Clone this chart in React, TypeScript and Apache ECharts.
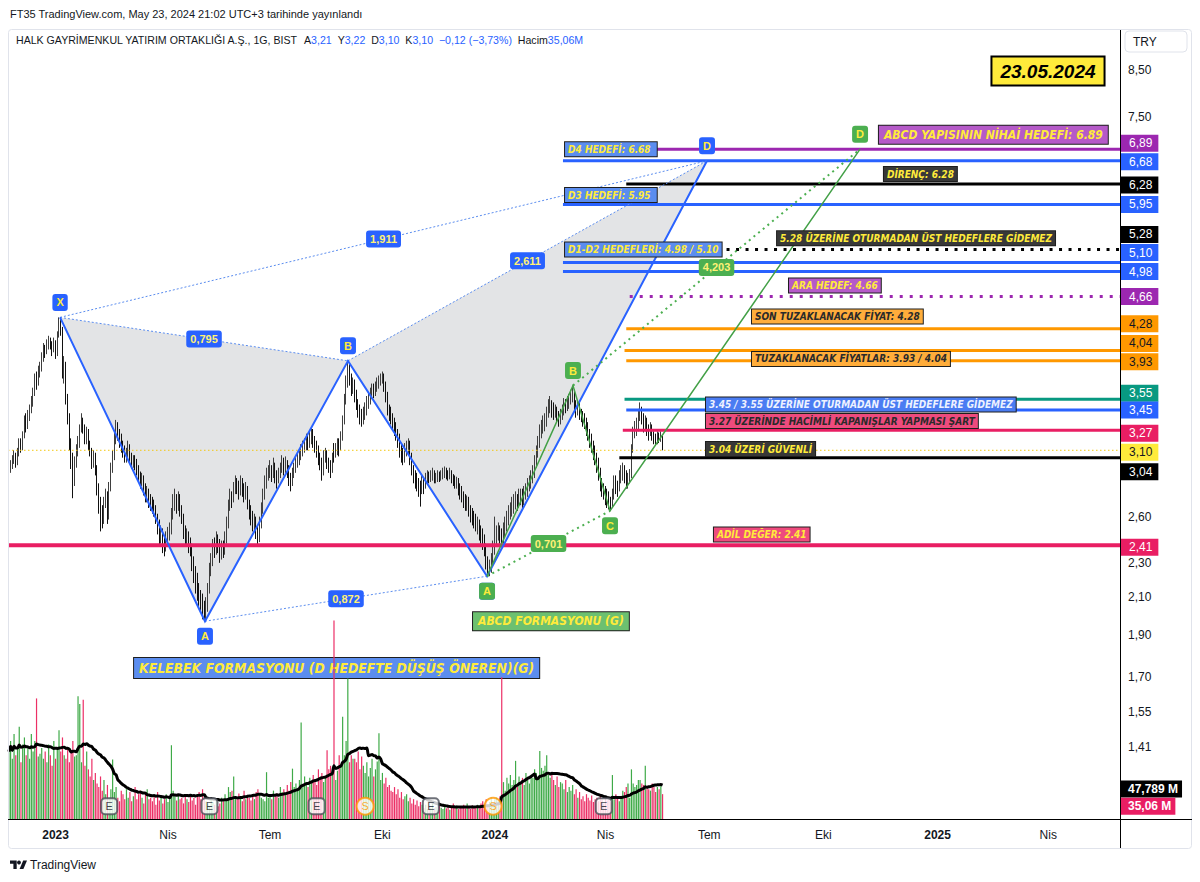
import React, { useEffect, useRef } from 'react';
import * as echarts from 'echarts';

const N_CATS = 643;
const HOLIDAYS = ['2023-04-21', '2023-05-01', '2023-05-19', '2023-06-28', '2023-06-29', '2023-06-30', '2024-01-01', '2024-04-10', '2024-04-11', '2024-04-12', '2024-04-23', '2024-05-01'];
const MONTHS_TR = ['Oca', 'Şub', 'Mar', 'Nis', 'May', 'Haz', 'Tem', 'Ağu', 'Eyl', 'Eki', 'Kas', 'Ara'];

// [open, close, low, high]
const candles = [
  [2.92,2.95,2.88,2.99],[2.95,2.98,2.92,3.02],[2.98,3.02,2.95,3.06],[3.02,3.05,2.99,3.10],[3.05,3.00,2.96,3.08],[3.00,3.08,2.98,3.12],[3.08,3.15,3.05,3.20],[3.15,3.12,3.08,3.20],[3.12,3.22,3.10,3.26],[3.22,3.35,3.20,3.40],
  [3.35,3.30,3.25,3.42],[3.30,3.38,3.28,3.45],[3.38,3.45,3.35,3.50],[3.45,3.52,3.42,3.58],[3.52,3.60,3.48,3.66],[3.60,3.75,3.58,3.80],[3.75,3.70,3.64,3.82],[3.70,3.82,3.68,3.88],[3.82,3.85,3.76,3.92],[3.85,3.95,3.82,4.02],
  [3.95,4.05,3.92,4.12],[4.05,4.02,3.96,4.10],[4.02,4.10,4.00,4.16],[4.10,4.15,4.05,4.20],[4.15,4.10,4.05,4.18],[4.10,4.05,3.98,4.14],[4.05,4.12,4.02,4.18],[4.12,4.00,3.95,4.15],[4.00,4.20,3.98,4.25],[4.20,4.35,4.18,4.41],
  [4.35,4.30,4.20,4.40],[4.30,3.80,3.75,4.30],[3.80,3.90,3.70,3.98],[3.90,3.55,3.50,3.92],[3.55,3.40,3.32,3.60],[3.40,3.15,3.10,3.42],[3.15,3.05,2.95,3.20],[3.05,2.85,2.73,3.08],[2.85,3.00,2.82,3.05],[3.00,3.10,2.96,3.15],
  [3.10,3.15,3.05,3.22],[3.15,3.28,3.12,3.32],[3.28,3.35,3.25,3.42],[3.35,3.30,3.24,3.38],[3.30,3.20,3.15,3.32],[3.20,3.25,3.15,3.30],[3.25,3.15,3.10,3.28],[3.15,3.10,3.05,3.18],[3.10,3.00,2.95,3.12],[3.00,3.05,2.96,3.10],
  [3.05,2.95,2.90,3.08],[2.95,2.80,2.75,2.98],[2.80,2.70,2.62,2.84],[2.70,2.62,2.50,2.74],[2.62,2.58,2.52,2.68],[2.58,2.70,2.55,2.74],[2.70,2.75,2.66,2.80],[2.75,2.60,2.55,2.78],[2.60,2.80,2.58,2.85],[2.80,2.95,2.78,3.00],
  [2.95,3.05,2.92,3.10],[3.05,3.20,3.02,3.25],[3.20,3.30,3.15,3.36],[3.30,3.25,3.18,3.34],[3.25,3.20,3.12,3.28],[3.20,3.12,3.08,3.24],[3.12,3.10,3.04,3.18],[3.10,3.05,3.00,3.14],[3.05,3.08,3.00,3.12],[3.08,3.12,3.04,3.18],
  [3.12,3.05,3.00,3.15],[3.05,3.00,2.95,3.08],[3.00,3.02,2.96,3.06],[3.02,3.00,2.94,3.06],[3.00,2.95,2.90,3.03],[2.95,2.90,2.85,2.98],[2.90,2.85,2.80,2.93],[2.85,2.88,2.82,2.92],[2.88,2.80,2.75,2.90],[2.80,2.75,2.70,2.84],
  [2.75,2.78,2.70,2.82],[2.78,2.72,2.66,2.80],[2.72,2.70,2.64,2.76],[2.70,2.68,2.62,2.74],[2.68,2.65,2.60,2.72],[2.65,2.60,2.55,2.68],[2.60,2.55,2.48,2.62],[2.55,2.45,2.40,2.58],[2.45,2.50,2.42,2.54],[2.50,2.42,2.36,2.52],
  [2.42,2.40,2.34,2.46],[2.40,2.45,2.37,2.50],[2.45,2.48,2.42,2.53],[2.48,2.50,2.44,2.56],[2.50,2.62,2.48,2.66],[2.62,2.70,2.58,2.76],[2.70,2.72,2.64,2.80],[2.72,2.68,2.62,2.76],[2.68,2.72,2.64,2.78],[2.72,2.65,2.60,2.76],
  [2.65,2.60,2.55,2.68],[2.60,2.50,2.45,2.62],[2.50,2.45,2.40,2.54],[2.45,2.48,2.40,2.52],[2.48,2.42,2.36,2.50],[2.42,2.40,2.34,2.46],[2.40,2.30,2.25,2.42],[2.30,2.25,2.18,2.34],[2.25,2.20,2.12,2.28],[2.20,2.15,2.08,2.24],
  [2.15,2.10,2.04,2.18],[2.10,2.08,2.02,2.14],[2.08,2.02,1.98,2.12],[2.02,2.00,1.97,2.08],[2.00,2.05,1.98,2.10],[2.05,2.15,2.02,2.18],[2.15,2.25,2.12,2.30],[2.25,2.32,2.22,2.36],[2.32,2.40,2.28,2.45],[2.40,2.38,2.33,2.46],
  [2.38,2.45,2.35,2.50],[2.45,2.42,2.36,2.48],[2.42,2.35,2.30,2.45],[2.35,2.40,2.32,2.44],[2.40,2.38,2.33,2.44],[2.38,2.45,2.35,2.50],[2.45,2.55,2.42,2.60],[2.55,2.68,2.52,2.72],[2.68,2.75,2.64,2.80],[2.75,2.72,2.66,2.78],
  [2.72,2.80,2.70,2.85],[2.80,2.85,2.76,2.90],[2.85,2.82,2.76,2.88],[2.82,2.78,2.72,2.86],[2.78,2.85,2.75,2.90],[2.85,2.80,2.74,2.88],[2.80,2.75,2.70,2.84],[2.75,2.80,2.72,2.85],[2.80,2.70,2.65,2.82],[2.70,2.65,2.58,2.72],
  [2.65,2.60,2.54,2.68],[2.60,2.55,2.50,2.64],[2.55,2.58,2.50,2.62],[2.58,2.50,2.45,2.60],[2.50,2.45,2.40,2.54],[2.45,2.55,2.43,2.60],[2.55,2.65,2.52,2.70],[2.65,2.75,2.62,2.80],[2.75,2.85,2.72,2.90],[2.85,2.90,2.80,2.96],
  [2.90,2.92,2.86,2.98],[2.92,2.95,2.88,3.02],[2.95,2.90,2.85,2.98],[2.90,2.98,2.88,3.04],[2.98,2.90,2.84,3.00],[2.90,2.88,2.80,2.94],[2.88,2.92,2.84,2.96],[2.92,2.95,2.88,3.00],[2.95,3.00,2.92,3.06],[3.00,2.95,2.90,3.04],
  [2.95,3.00,2.92,3.05],[3.00,2.95,2.88,3.02],[2.95,2.88,2.82,2.98],[2.88,2.85,2.78,2.92],[2.85,2.92,2.82,2.96],[2.92,2.95,2.88,3.00],[2.95,3.00,2.92,3.05],[3.00,3.02,2.96,3.08],[3.02,3.05,2.98,3.10],[3.05,3.10,3.02,3.15],
  [3.10,3.12,3.05,3.18],[3.12,3.15,3.08,3.20],[3.15,3.18,3.10,3.24],[3.18,3.15,3.10,3.22],[3.15,3.20,3.12,3.26],[3.20,3.25,3.15,3.30],[3.25,3.18,3.12,3.28],[3.18,3.15,3.08,3.22],[3.15,3.10,3.04,3.18],[3.10,3.05,2.98,3.14],
  [3.05,3.00,2.94,3.08],[3.00,2.92,2.86,3.04],[2.92,3.05,2.90,3.10],[3.05,3.05,3.00,3.12],[3.05,3.00,2.95,3.10],[3.00,2.98,2.92,3.04],[2.98,2.95,2.88,3.02],[2.95,3.02,2.92,3.08],[3.10,3.08,3.00,3.16],[3.08,3.10,3.04,3.16],
  [3.10,3.15,3.06,3.20],[3.15,3.12,3.05,3.20],[3.12,3.20,3.10,3.26],[3.20,3.35,3.18,3.40],[3.35,3.55,3.32,3.60],[3.55,3.70,3.50,3.78],[3.70,3.85,3.66,3.93],[3.85,3.75,3.68,3.90],[3.75,3.65,3.58,3.80],[3.65,3.70,3.60,3.76],
  [3.70,3.60,3.52,3.74],[3.60,3.50,3.45,3.64],[3.50,3.45,3.38,3.55],[3.45,3.40,3.32,3.50],[3.40,3.35,3.30,3.46],[3.35,3.42,3.32,3.48],[3.42,3.45,3.36,3.52],[3.45,3.52,3.40,3.58],[3.52,3.55,3.46,3.60],[3.55,3.60,3.50,3.66],
  [3.60,3.65,3.55,3.70],[3.65,3.62,3.56,3.70],[3.62,3.68,3.58,3.72],[3.68,3.70,3.62,3.76],[3.70,3.72,3.65,3.78],[3.72,3.75,3.68,3.80],[3.75,3.78,3.70,3.82],[3.78,3.70,3.62,3.80],[3.70,3.60,3.52,3.72],[3.60,3.45,3.40,3.62],
  [3.45,3.42,3.35,3.50],[3.42,3.38,3.32,3.48],[3.38,3.35,3.28,3.42],[3.35,3.30,3.22,3.38],[3.30,3.25,3.18,3.34],[3.25,3.20,3.12,3.28],[3.20,3.10,3.04,3.24],[3.10,3.08,3.00,3.16],[3.08,3.05,2.98,3.12],[3.05,3.10,3.00,3.16],
  [3.10,3.12,3.05,3.18],[3.12,3.15,3.06,3.20],[3.15,3.05,2.98,3.18],[3.05,2.95,2.90,3.08],[2.95,2.90,2.84,2.98],[2.90,2.88,2.80,2.94],[2.88,2.85,2.78,2.92],[2.85,2.82,2.74,2.88],[2.82,2.80,2.67,2.86],[2.80,2.85,2.76,2.90],
  [2.85,2.82,2.76,2.88],[2.82,2.88,2.80,2.92],[2.88,2.90,2.84,2.94],[2.90,2.88,2.84,2.93],[2.88,2.90,2.85,2.94],[2.90,2.92,2.86,2.96],[2.92,2.88,2.84,2.94],[2.88,2.88,2.84,2.92],[2.88,2.90,2.85,2.94],[2.90,2.89,2.85,2.93],
  [2.89,2.90,2.86,2.94],[2.90,2.92,2.87,2.96],[2.92,2.93,2.88,2.97],[2.93,2.91,2.87,2.96],[2.91,2.90,2.86,2.94],[2.90,2.92,2.87,2.96],[2.92,2.88,2.84,2.94],[2.88,2.86,2.82,2.91],[2.86,2.85,2.80,2.90],[2.85,2.85,2.80,2.89],
  [2.85,2.80,2.75,2.88],[2.80,2.78,2.72,2.84],[2.78,2.75,2.70,2.82],[2.75,2.72,2.66,2.78],[2.72,2.70,2.64,2.76],[2.70,2.70,2.64,2.75],[2.70,2.65,2.60,2.74],[2.65,2.62,2.56,2.68],[2.62,2.60,2.54,2.66],[2.60,2.58,2.52,2.64],
  [2.58,2.55,2.50,2.62],[2.55,2.55,2.48,2.60],[2.55,2.50,2.44,2.58],[2.50,2.48,2.42,2.54],[2.48,2.45,2.38,2.52],[2.45,2.40,2.34,2.48],[2.40,2.30,2.26,2.42],[2.30,2.25,2.22,2.34],[2.25,2.28,2.22,2.32],[2.28,2.30,2.24,2.36],
  [2.30,2.38,2.28,2.44],[2.38,2.45,2.35,2.60],[2.45,2.48,2.40,2.54],[2.48,2.50,2.44,2.56],[2.50,2.48,2.42,2.54],[2.48,2.45,2.40,2.52],[2.45,2.50,2.42,2.56],[2.50,2.55,2.46,2.60],[2.55,2.58,2.50,2.64],[2.58,2.62,2.54,2.68],
  [2.62,2.65,2.58,2.70],[2.65,2.68,2.60,2.74],[2.68,2.70,2.62,2.76],[2.70,2.72,2.65,2.78],[2.72,2.70,2.64,2.76],[2.70,2.74,2.66,2.80],[2.74,2.75,2.68,2.80],[2.75,2.72,2.66,2.80],[2.72,2.76,2.68,2.82],[2.76,2.78,2.72,2.84],
  [2.78,2.82,2.74,2.88],[2.82,2.85,2.78,2.90],[2.85,2.88,2.80,2.94],[2.88,2.92,2.84,2.98],[2.92,3.00,2.88,3.06],[3.00,3.08,2.96,3.14],[3.08,3.15,3.04,3.22],[3.15,3.25,3.12,3.32],[3.25,3.28,3.20,3.36],[3.28,3.32,3.24,3.40],
  [3.32,3.35,3.26,3.42],[3.35,3.42,3.30,3.48],[3.42,3.48,3.38,3.55],[3.48,3.50,3.42,3.58],[3.50,3.46,3.38,3.54],[3.46,3.44,3.36,3.52],[3.44,3.45,3.38,3.50],[3.45,3.40,3.34,3.48],[3.40,3.38,3.30,3.44],[3.38,3.40,3.32,3.46],
  [3.40,3.45,3.36,3.50],[3.45,3.50,3.40,3.56],[3.50,3.48,3.42,3.55],[3.48,3.52,3.44,3.58],[3.52,3.55,3.46,3.60],[3.55,3.58,3.50,3.64],[3.58,3.62,3.52,3.68],[3.62,3.50,3.44,3.64],[3.50,3.45,3.38,3.54],[3.45,3.48,3.40,3.54],
  [3.48,3.42,3.36,3.52],[3.42,3.40,3.34,3.46],[3.40,3.38,3.30,3.44],[3.38,3.35,3.28,3.42],[3.35,3.30,3.22,3.38],[3.30,3.25,3.18,3.34],[3.25,3.20,3.12,3.28],[3.20,3.15,3.08,3.24],[3.15,3.10,3.02,3.18],[3.10,3.05,2.98,3.14],
  [3.05,3.00,2.92,3.08],[3.00,2.92,2.86,3.04],[2.92,2.85,2.78,2.96],[2.85,2.80,2.74,2.88],[2.80,2.78,2.72,2.84],[2.78,2.75,2.68,2.82],[2.75,2.72,2.66,2.80],[2.72,2.70,2.65,2.78],[2.70,2.68,2.64,2.74],[2.68,2.75,2.66,2.80],
  [2.75,2.85,2.72,2.90],[2.85,2.82,2.76,2.90],[2.82,2.80,2.74,2.86],[2.80,2.88,2.78,2.94],[2.88,2.92,2.84,2.98],[2.92,2.95,2.86,3.00],[2.95,2.90,2.84,2.98],[2.90,2.85,2.80,2.94],[2.85,2.88,2.80,2.92],[2.88,2.90,2.84,2.95],
  [2.90,3.10,2.88,3.15],[3.10,3.25,3.08,3.30],[3.25,3.28,3.20,3.35],[3.28,3.30,3.22,3.38],[3.30,3.40,3.26,3.46],[3.40,3.45,3.35,3.52],[3.45,3.38,3.32,3.48],[3.38,3.30,3.25,3.42],[3.30,3.35,3.26,3.40],[3.35,3.28,3.22,3.38],
  [3.28,3.25,3.18,3.32],[3.25,3.30,3.22,3.34],[3.30,3.22,3.18,3.32],[3.22,3.20,3.15,3.26],[3.20,3.18,3.14,3.24],[3.18,3.22,3.15,3.26],[3.22,3.20,3.16,3.25],[3.20,3.22,3.17,3.26],[3.21,3.10,3.10,3.22]
];

// volume, millions
const volumes = [
  95,110,85,120,90,100,130,80,105,115, 90,100,85,120,95,110,170,88,92,100,
  85,95,80,105,90,75,110,85,100,125, 95,115,90,85,100,80,95,110,88,90,
  173,162,80,168,75,95,70,60,85,55, 65,50,45,60,40,55,35,48,30,42,
  84,38,45,30,25,40,35,28,42,30, 38,25,32,45,28,35,40,30,22,36,
  42,28,30,25,33,20,38,26,30,22, 28,35,24,30,104,40,32,26,35,28,
  30,22,35,28,24,32,26,30,20,34, 38,28,42,30,25,22,18,28,24,20,
  26,18,22,30,25,35,28,45,38,40, 60,32,28,36,30,25,40,28,34,30,
  26,32,28,38,42,35,30,28,25,66, 30,35,28,40,32,36,30,45,38,42,
  35,48,40,52,71,45,50,42,55,136, 48,60,52,45,58,50,62,55,48,70,
  58,65,52,60,97,70,75,62,280,55, 68,90,75,144,90,110,198,80,90,85,
  85,80,95,70,88,75,65,80,60,72, 85,60,70,81,121,55,65,50,58,45,
  48,40,38,45,35,42,30,38,28,32, 35,25,30,22,28,20,26,18,24,20,
  15,20,14,18,16,22,15,17,13,19, 16,14,20,15,18,13,17,22,15,19,
  14,18,16,20,15,22,17,14,19,16, 18,20,15,22,25,18,28,20,24,30,
  22,28,30,26,32,200,52,40,58,50, 62,48,55,82,45,60,52,58,48,65,
  55,50,62,58,70,65,60,96,72,68, 75,90,62,58,65,55,48,60,45,52,
  50,42,55,38,45,40,48,35,42,30, 38,28,32,25,35,30,26,33,24,28,
  30,25,35,28,22,32,26,30,24,62, 28,35,30,25,32,40,38,45,50,30,
  70,50,45,48,55,55,50,48,75,45, 42,40,50,45,38,45,42,47.72,35.06
];

const earningsIdx = [58, 116, 178, 244, 344];
const dividendIdx = [206, 280];
const priceTicks = [8.5, 7.5, 2.6, 2.3, 2.1, 1.9, 1.7, 1.55, 1.41];

const bfLetters = ['X', 'A', 'B', 'C', 'D'];
const bfIdx = [29.6, 113.4, 196.1, 276.5, 403.7];
const bfPrice = [4.41, 1.97, 3.93, 2.22, 6.68];
const bfRatios = ['0,795', '0,872', '1,911', '2,611'];
const abcdLetters = ['A', 'B', 'C', 'D'];
const abcdIdx = [276.5, 326.2, 347.6, 492.2];
const abcdPrice = [2.22, 3.68, 2.64, 6.89];
const abcdRatios = ['0,701', '4,203'];

const levelPrices = [6.89, 6.68, 6.28, 5.95, 5.28, 5.10, 4.98, 4.66, 4.28, 4.04, 3.93, 3.55, 3.45, 3.27, 3.04, 2.41];
const levelStart = [321.6, 320.4, 357, 320.4, 321.6, 320.4, 320.4, 359, 357, 356, 357, 356, 357, 355, 353, -0.5];

const noteTexts = [
  'D4 HEDEFİ: 6.68 ', 'D3 HEDEFİ: 5.95 ', 'D1-D2 HEDEFLERİ: 4.98 / 5.10', 'ABCD YAPISININ NİHAİ HEDEFİ: 6.89',
  'DİRENÇ: 6.28', '5.28 ÜZERİNE OTURMADAN ÜST HEDEFLERE GİDEMEZ', 'ARA HEDEF: 4.66', 'SON TUZAKLANACAK FİYAT: 4.28',
  'TUZAKLANACAK FİYATLAR: 3.93 / 4.04', '3.45 / 3.55 ÜZERİNE OTURMADAN ÜST HEDEFLERE GİDEMEZ',
  '3.27 ÜZERİNDE HACİMLİ KAPANIŞLAR YAPMASI ŞART', '3.04 ÜZERİ GÜVENLİ', 'ADİL DEĞER: 2.41',
  'ABCD FORMASYONU (G)', 'KELEBEK FORMASYONU (D HEDEFTE DÜŞÜŞ ÖNEREN)(G)'
];
const noteIdx = [321.6, 321.6, 321.6, 503.1, 506.0, 444.2, 451.1, 429.7, 429.7, 403.1, 403.1, 403.1, 407.7, 268.4, 72.4];
const notePrice = [6.89, 6.10, 5.28, 7.16, 6.45, 5.44, 4.80, 4.42, 3.95, 3.50, 3.35, 3.11, 2.48, 1.97, 1.74];

// ---------- styles ----------
const AX = '"Liberation Sans", Arial, sans-serif';
const COND = '"DejaVu Sans Condensed", "DejaVu Sans", sans-serif';
const BLUE = '#2962ff';
const YEL = '#ffeb3b';
const LEVEL_STYLE: any[] = [
  { c: '#9c27b0', w: 3, t: '#fff', s: -6 },
  { c: BLUE, w: 3, t: '#fff', s: 1 },
  { c: '#000000', w: 3, t: '#fff', s: 1 },
  { c: BLUE, w: 3, t: '#fff', s: 0 },
  { c: '#000000', w: 3, d: [3, 6.5], t: '#fff', s: -15 },
  { c: BLUE, w: 3, t: '#fff', s: -10 },
  { c: BLUE, w: 3, t: '#fff', s: 0 },
  { c: '#9c27b0', w: 3, d: [3, 7], t: '#fff', s: 0 },
  { c: '#ff9800', w: 3, t: '#131722', s: -5 },
  { c: '#ff9800', w: 3, t: '#131722', s: -7 },
  { c: '#ff9800', w: 3, t: '#131722', s: 1 },
  { c: '#089981', w: 3, t: '#fff', s: -6 },
  { c: BLUE, w: 3, t: '#fff', s: 0 },
  { c: '#e91e63', w: 3, t: '#fff', s: 3 },
  { c: '#000000', w: 3, t: '#fff', s: 14 },
  { c: '#e91e63', w: 4, t: '#fff', s: 2 },
];
const BOXBLUE = '#5b8def', PURP = '#b55ac8', DARK = '#383838', ORANGE = '#ffad3b', PINK = '#ee4b7d', GREENBOX = '#6cc070';
const NOTE_STYLE: any[] = [
  { bg: BOXBLUE, fg: YEL, fs: 10 }, { bg: BOXBLUE, fg: YEL, fs: 10 }, { bg: BOXBLUE, fg: YEL, fs: 10 },
  { bg: PURP, fg: YEL, fs: 12, p: [3, 5] }, { bg: DARK, fg: YEL, fs: 10 }, { bg: DARK, fg: YEL, fs: 10 },
  { bg: PURP, fg: YEL, fs: 10 }, { bg: ORANGE, fg: '#2a2a2a', fs: 10 }, { bg: ORANGE, fg: '#2a2a2a', fs: 10 },
  { bg: '#4a7cf2', fg: '#eef2ff', fs: 10 }, { bg: PINK, fg: '#2a2a2a', fs: 10 }, { bg: DARK, fg: YEL, fs: 10 },
  { bg: PINK, fg: YEL, fs: 10 }, { bg: GREENBOX, fg: YEL, fs: 12, p: [3, 5] }, { bg: BOXBLUE, fg: YEL, fs: 13.8, p: [3, 5] },
];

const fmt = (v: number, d = 2) => v.toFixed(d).replace('.', ',').replace('-', '−');

function buildDates(): string[] {
  const out: string[] = [];
  const d = new Date(Date.UTC(2022, 10, 24));
  while (out.length < N_CATS) {
    const wd = d.getUTCDay();
    const s = d.toISOString().slice(0, 10);
    if (wd !== 0 && wd !== 6 && HOLIDAYS.indexOf(s) < 0) out.push(s);
    d.setUTCDate(d.getUTCDate() + 1);
  }
  return out;
}

function buildOption() {
  const dates = buildDates();
  const maVals = volumes.map((_, i) => {
    const s = Math.max(0, i - 19);
    let sum = 0;
    for (let k = s; k <= i; k++) sum += volumes[k];
    return sum / (i - s + 1);
  });
  const volData = volumes.map((v, i) => ({
    value: v,
    itemStyle: { color: candles[i][1] >= candles[i][0] ? '#3faa48' : '#ec2f66' },
  }));
  const last = candles[candles.length - 1];
  const prevClose = candles[candles.length - 2][1];
  const chg = last[1] - prevClose;
  const pct = (chg / prevClose) * 100;

  const overlay = (params: any, api: any) => {
    const pt = (i: number, p: number) => api.coord([i, p]);
    const right = pt(N_CATS - 0.5, 3)[0];
    const left = pt(-0.5, 3)[0];
    const ch: any[] = [];
    const line = (a: number[], b: number[], stroke: string, w: number, dash?: number[]) =>
      ch.push({ type: 'line', shape: { x1: a[0], y1: a[1], x2: b[0], y2: b[1] }, style: dash ? { stroke, lineWidth: w, lineDash: dash } : { stroke, lineWidth: w } });
    const text = (x: number, y: number, t: string, st: any) => ch.push({ type: 'text', x, y, style: { text: t, ...st } });

    // levels
    levelPrices.forEach((p, k) => {
      const s = LEVEL_STYLE[k];
      const a = pt(levelStart[k], p);
      line(a, [right, a[1]], s.c, s.w, s.d);
    });
    // current price line
    const yc = pt(0, last[1])[1];
    line([left, yc], [right, yc], '#f2c811', 1, [1.5, 2.5]);

    // butterfly pattern
    const B = bfIdx.map((x, k) => pt(x, bfPrice[k]));
    const bfPairs = [[0, 2], [1, 3], [0, 4], [2, 4]];
    bfPairs.forEach(([a, b]) => line(B[a], B[b], '#5b8def', 1, [2, 2]));
    ch.push({ type: 'polyline', shape: { points: B }, style: { stroke: BLUE, lineWidth: 2, fill: 'none' } });
    // ABCD pattern
    const G = abcdIdx.map((x, k) => pt(x, abcdPrice[k]));
    const gPairs = [[0, 2], [1, 3]];
    gPairs.forEach(([a, b]) => line(G[a], G[b], '#4caf50', 2, [2, 4]));
    ch.push({ type: 'polyline', shape: { points: G }, style: { stroke: '#43a047', lineWidth: 1.5, fill: 'none' } });

    // notes
    noteTexts.forEach((t, k) => {
      const s = NOTE_STYLE[k];
      const a = pt(noteIdx[k], notePrice[k]);
      text(a[0], a[1], t, {
        fill: s.fg, backgroundColor: s.bg, borderColor: '#1e1e1e', borderWidth: 1, padding: s.p || [2, 3],
        fontSize: s.fs, fontFamily: COND, fontWeight: 'bold', fontStyle: 'italic', align: 'left', verticalAlign: 'middle',
      });
    });

    // ratio labels
    const ratioStyle = (bg: string) => ({
      fill: '#fff176', backgroundColor: bg, borderRadius: 3, padding: [3, 4], fontSize: 11, fontFamily: AX,
      fontWeight: 'bold', align: 'center', verticalAlign: 'middle',
    });
    bfPairs.forEach(([a, b], k) => text((B[a][0] + B[b][0]) / 2, (B[a][1] + B[b][1]) / 2, bfRatios[k], ratioStyle(BLUE)));
    gPairs.forEach(([a, b], k) => text((G[a][0] + G[b][0]) / 2, (G[a][1] + G[b][1]) / 2, abcdRatios[k], ratioStyle('#4caf50')));

    // point badges
    const badge = (bg: string) => ({
      fill: YEL, backgroundColor: bg, borderRadius: 3, padding: [3, 4], fontSize: 11, fontFamily: AX,
      fontWeight: 'bold', align: 'center', verticalAlign: 'middle',
    });
    bfLetters.forEach((L, k) => text(B[k][0], B[k][1] + (k % 2 === 0 ? -15 : 15), L, badge(BLUE)));
    abcdLetters.forEach((L, k) => text(G[k][0], G[k][1] + (k % 2 === 1 ? -15 : 15), L, badge('#4caf50')));

    // right axis tick labels
    priceTicks.forEach((p) => text(right + 8, pt(0, p)[1], fmt(p), {
      fill: '#131722', fontSize: 12, fontFamily: AX, align: 'left', verticalAlign: 'middle',
    }));
    // right axis badges
    const rb = (p: number, bg: string, fg: string, shift: number) => text(right + 1, pt(0, p)[1] + shift, fmt(p), {
      fill: fg, backgroundColor: bg, padding: [3, 6, 2, 8], fontSize: 12, fontFamily: AX, align: 'left', verticalAlign: 'middle',
    });
    levelPrices.forEach((p, k) => { if (k < 14) rb(p, LEVEL_STYLE[k].c, LEVEL_STYLE[k].t, LEVEL_STYLE[k].s); });
    rb(last[1], YEL, '#131722', 2);
    rb(levelPrices[14], LEVEL_STYLE[14].c, LEVEL_STYLE[14].t, LEVEL_STYLE[14].s);
    rb(levelPrices[15], LEVEL_STYLE[15].c, LEVEL_STYLE[15].t, LEVEL_STYLE[15].s);
    return { type: 'group', children: ch };
  };

  const fills = (params: any, api: any) => {
    const B = bfIdx.map((x, k) => api.coord([x, bfPrice[k]]));
    const fill = 'rgba(140,143,152,0.24)';
    return {
      type: 'group', children: [
        { type: 'polygon', shape: { points: [B[0], B[1], B[2]] }, style: { fill } },
        { type: 'polygon', shape: { points: [B[2], B[3], B[4]] }, style: { fill } },
      ],
    };
  };

  const volBadges = (params: any, api: any) => {
    const right = api.coord([N_CATS - 0.5, 0])[0];
    const maLast = maVals[maVals.length - 1];
    const vLast = volumes[volumes.length - 1];
    const st = (bg: string) => ({ fill: '#fff', backgroundColor: bg, padding: [3, 4, 2, 7], fontSize: 12, fontFamily: AX, fontWeight: 'bold', align: 'left', verticalAlign: 'middle' });
    return {
      type: 'group', children: [
        { type: 'text', x: right + 1, y: api.coord([0, maLast])[1] + 4, style: { text: fmt(maLast, 3) + ' M', ...st('#000000') } },
        { type: 'text', x: right + 1, y: api.coord([0, vLast])[1] + 12, style: { text: fmt(vLast, 2) + ' M', ...st('#e91e63') } },
      ],
    };
  };

  const legendRich = '{n|HALK GAYRİMENKUL YATIRIM ORTAKLIĞI A.Ş., 1G, BIST}  {n|A}{v|' + fmt(last[0]) + '}  {n|Y}{v|' + fmt(last[3]) +
    '}  {n|D}{v|' + fmt(last[2]) + '}  {n|K}{v|' + fmt(last[1]) + '}  {v|' + fmt(chg) + ' (' + fmt(pct) + '%)}  {n|Hacim}{v|' + fmt(volumes[volumes.length - 1]) + 'M}';

  return {
    animation: false,
    backgroundColor: '#ffffff',
    grid: [
      { left: 8, right: 80, top: 30, bottom: 63 },
      { left: 8, right: 80, top: 619, bottom: 63 },
    ],
    xAxis: [
      {
        type: 'category', gridIndex: 0, data: dates, boundaryGap: true,
        axisLine: { show: false }, axisTick: { show: false }, splitLine: { show: false },
        axisLabel: {
          interval: (idx: number, val: string) => {
            if (idx === 0) return false;
            const m = +val.slice(5, 7);
            const pm = +dates[idx - 1].slice(5, 7);
            return m !== pm && (m - 1) % 3 === 0;
          },
          formatter: (val: string) => {
            const m = +val.slice(5, 7);
            return m === 1 ? '{y|' + val.slice(0, 4) + '}' : MONTHS_TR[m - 1];
          },
          rich: { y: { fontWeight: 'bold', fontSize: 12, color: '#131722', fontFamily: AX } },
          color: '#131722', fontSize: 12, fontFamily: AX, margin: 10,
        },
      },
      { type: 'category', gridIndex: 1, data: dates, show: false },
      { type: 'value', gridIndex: 0, min: -0.5, max: N_CATS - 0.5, show: false },
      { type: 'value', gridIndex: 1, min: -0.5, max: N_CATS - 0.5, show: false },
    ],
    yAxis: [
      { type: 'log', logBase: 10, gridIndex: 0, min: 1.166, max: 9.45, position: 'right', axisLine: { show: false }, axisTick: { show: false }, axisLabel: { show: false }, splitLine: { show: false } },
      { type: 'value', gridIndex: 1, min: 0, max: 282, show: false, splitLine: { show: false } },
    ],
    series: [
      { type: 'custom', name: 'fills', xAxisIndex: 2, yAxisIndex: 0, z: 1, silent: true, clip: false, data: [[0, 3]], renderItem: fills },
      {
        type: 'candlestick', name: 'HLGYO', xAxisIndex: 0, yAxisIndex: 0, z: 2, data: candles, barWidth: 1.3,
        itemStyle: { color: '#8f8f8f', color0: '#111111', borderColor: '#3f3f3f', borderColor0: '#111111', borderWidth: 1 },
      },
      { type: 'custom', name: 'drawings', xAxisIndex: 2, yAxisIndex: 0, z: 3, silent: true, clip: false, data: [[0, 3]], renderItem: overlay },
      { type: 'bar', name: 'Hacim', xAxisIndex: 1, yAxisIndex: 1, z: 4, data: volData, barWidth: 1.2 },
      {
        type: 'line', name: 'MA', xAxisIndex: 1, yAxisIndex: 1, z: 5, data: maVals, showSymbol: false, smooth: 0.3,
        lineStyle: { color: '#000000', width: 3 },
      },
      {
        type: 'scatter', name: 'E', xAxisIndex: 1, yAxisIndex: 1, z: 6, data: earningsIdx.map((i) => [i, 18]),
        symbol: 'roundRect', symbolSize: 16, itemStyle: { color: '#ffffff', borderColor: '#4a4d57', borderWidth: 2 },
        label: { show: true, formatter: 'E', position: 'inside', color: '#131722', fontSize: 11, fontFamily: AX },
      },
      {
        type: 'scatter', name: 'S', xAxisIndex: 1, yAxisIndex: 1, z: 6, data: dividendIdx.map((i) => [i, 18]),
        symbol: 'circle', symbolSize: 17, itemStyle: { color: '#ffffff', borderColor: '#ff9800', borderWidth: 2 },
        label: { show: true, formatter: 'S', position: 'inside', color: '#ff9800', fontSize: 11, fontFamily: AX },
      },
      { type: 'custom', name: 'volbadges', xAxisIndex: 3, yAxisIndex: 1, z: 7, silent: true, clip: false, data: [[0, 10]], renderItem: volBadges },
    ],
    graphic: [
      { type: 'rect', z: 100, shape: { x: 8.5, y: 29.5, width: 1183, height: 819, r: 3 }, style: { fill: 'none', stroke: '#e0e3eb', lineWidth: 1 } },
      { type: 'line', z: 100, shape: { x1: 8, y1: 819.5, x2: 1192, y2: 819.5 }, style: { stroke: '#000', lineWidth: 1 } },
      { type: 'line', z: 100, shape: { x1: 1120.5, y1: 30, x2: 1120.5, y2: 848 }, style: { stroke: '#000', lineWidth: 1 } },
      { type: 'text', z: 100, x: 10, y: 14, style: { text: 'FT35 TradingView.com, May 23, 2024 21:02 UTC+3 tarihinde yayınlandı', fill: '#131722', fontSize: 11, fontFamily: AX, verticalAlign: 'middle' } },
      {
        type: 'text', z: 100, x: 16, y: 40,
        style: {
          text: legendRich, fontSize: 10.6, fontFamily: AX, verticalAlign: 'middle',
          rich: { n: { fill: '#131722', fontSize: 10.6, fontFamily: AX }, v: { fill: BLUE, fontSize: 10.6, fontFamily: AX } },
        },
      },
      { type: 'rect', z: 100, shape: { x: 1125, y: 31, width: 62, height: 21, r: 4 }, style: { fill: '#fff', stroke: '#e0e3eb' } },
      { type: 'text', z: 101, x: 1133, y: 42, style: { text: 'TRY', fill: '#131722', fontSize: 12, fontFamily: AX, verticalAlign: 'middle' } },
      {
        type: 'text', z: 100, x: 1048, y: 71,
        style: {
          text: '23.05.2024', fill: '#000', backgroundColor: YEL, borderColor: '#000', borderWidth: 2, padding: [4, 8],
          fontSize: 19, fontWeight: 'bold', fontStyle: 'italic', fontFamily: AX, align: 'center', verticalAlign: 'middle',
        },
      },
      { type: 'polygon', z: 100, shape: { points: [[10, 860.5], [16.7, 860.5], [16.7, 869], [13.4, 869], [13.4, 863.8], [10, 863.8]] }, style: { fill: '#131722' } },
      { type: 'circle', z: 100, shape: { cx: 19, cy: 862.5, r: 1.9 }, style: { fill: '#131722' } },
      { type: 'polygon', z: 100, shape: { points: [[19.6, 869], [23.2, 860.5], [27, 860.5], [23.4, 869]] }, style: { fill: '#131722' } },
      { type: 'text', z: 100, x: 30, y: 865, style: { text: 'TradingView', fill: '#131722', fontSize: 12, fontFamily: AX, verticalAlign: 'middle' } },
    ],
  };
}

export default function App() {
  const ref = useRef<HTMLDivElement>(null);
  useEffect(() => {
    if (!ref.current) return;
    const chart = echarts.init(ref.current, null, { renderer: 'svg' });
    chart.setOption(buildOption() as any);
    return () => chart.dispose();
  }, []);
  return <div ref={ref} style={{ position: 'fixed', left: 0, top: 0, width: 1200, height: 882, background: '#ffffff' }} />;
}
